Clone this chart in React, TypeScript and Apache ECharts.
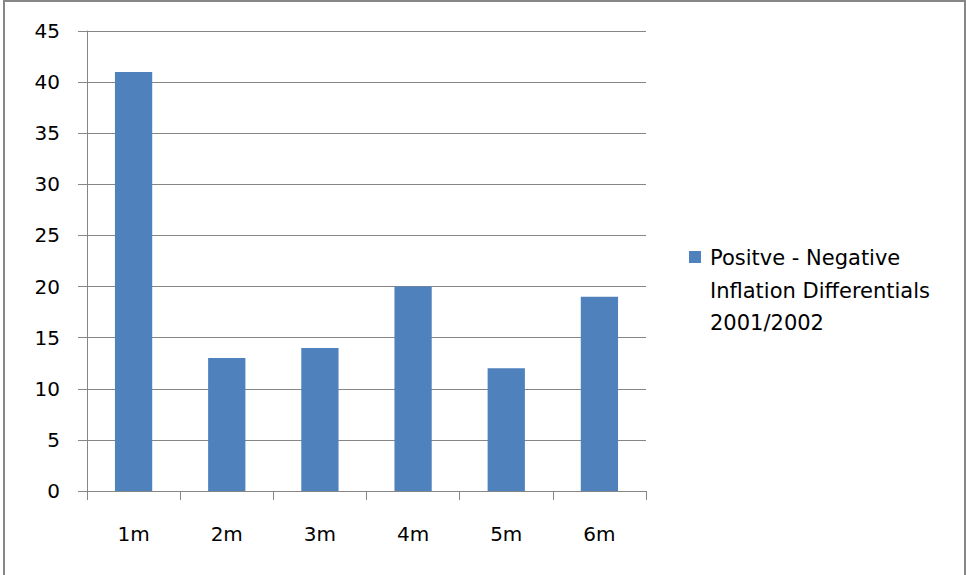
import React, { useEffect, useRef } from "react";
import * as echarts from "echarts";

// Inflation differential counts by horizon
const categories = ["1m", "2m", "3m", "4m", "5m", "6m"];
const seriesName = "Positve - Negative\nInflation Differentials\n2001/2002";
const values = [41, 13, 14, 20, 12, 19];
const yTicks = { min: 0, max: 45, interval: 5 };

const FONT = "'DejaVu Sans', 'Open Sans', sans-serif";
const GREY = "#868686";
const BAR = "#4F81BD";
const AXIS_FS = 20;
const LEGEND_FS = 21;

export default function App() {
  const ref = useRef<HTMLDivElement>(null);

  useEffect(() => {
    if (!ref.current) return;
    const chart = echarts.init(ref.current, undefined, { renderer: "svg" });
    chart.setOption({
      animation: false,
      backgroundColor: "#ffffff",
      textStyle: { fontFamily: FONT },
      graphic: [
        {
          type: "rect",
          shape: { x: 4, y: 1, width: 961, height: 590 },
          style: { fill: "none", stroke: GREY, lineWidth: 2 },
          silent: true,
        },
        // legend key and its three-line caption
        {
          type: "rect",
          shape: { x: 689, y: 251, width: 12, height: 12 },
          style: { fill: BAR },
          silent: true,
        },
        {
          type: "text",
          x: 710,
          y: 242,
          style: {
            text: seriesName,
            fontFamily: FONT,
            fontSize: LEGEND_FS,
            lineHeight: 32.5,
            fill: "#000",
            verticalAlign: "top",
            align: "left",
          },
          silent: true,
        },
      ],
      grid: { left: 87, right: 320, top: 31, bottom: 84, containLabel: false },
      xAxis: {
        type: "category",
        data: categories,
        axisLine: { show: true, lineStyle: { color: GREY, width: 1 } },
        axisTick: { show: true, length: 9, alignWithLabel: false, lineStyle: { color: GREY } },
        axisLabel: { margin: 33, fontSize: AXIS_FS, color: "#000", fontFamily: FONT },
        splitLine: { show: false },
      },
      yAxis: {
        type: "value",
        min: yTicks.min,
        max: yTicks.max,
        interval: yTicks.interval,
        axisLine: { show: true, lineStyle: { color: GREY, width: 1 } },
        axisTick: { show: true, length: 9, lineStyle: { color: GREY } },
        axisLabel: { margin: 27, fontSize: AXIS_FS, color: "#000", fontFamily: FONT },
        splitLine: { show: true, lineStyle: { color: GREY, width: 1 } },
      },
      series: [
        {
          name: seriesName,
          type: "bar",
          data: values,
          barWidth: "40%",
          itemStyle: { color: BAR },
        },
      ],
    });
    return () => chart.dispose();
  }, []);

  return (
    <div
      ref={ref}
      style={{ position: "fixed", left: 0, top: 0, width: 966, height: 575, background: "#fff" }}
    />
  );
}
